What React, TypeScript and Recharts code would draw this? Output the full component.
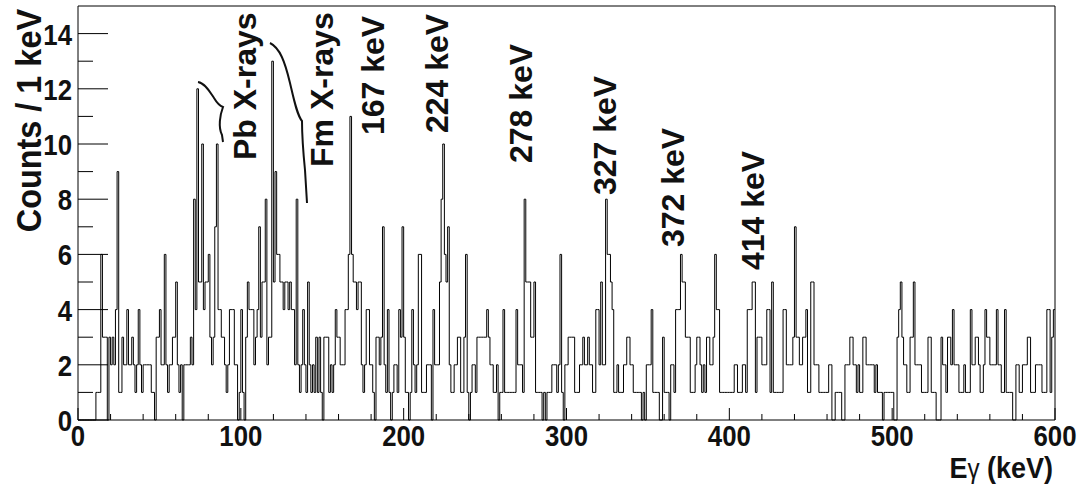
import { LineChart, Line, XAxis, YAxis, ReferenceArea } from 'recharts';

// counts per 1 keV bin (bin i = [i, i+1) keV)
const counts000 = [
  0, 0, 0, 0, 0, 0, 0, 0, 0, 0, 0, 1, 1, 1, 6, 3, 3, 3, 0, 3,
  2, 3, 2, 4, 9, 1, 1, 3, 2, 2, 4, 2, 2, 3, 2, 1, 2, 4, 2, 1,
  2, 2, 2, 2, 2, 1, 1, 0, 3, 3, 4, 2, 2, 6, 2, 1, 2, 2, 3, 3,
  5, 2, 1, 2, 0, 2, 2, 2, 2, 3, 2, 8, 4, 12, 5, 5, 10, 4, 5, 5,
  6, 3, 2, 3, 7, 10, 4, 4, 3, 3, 2, 1, 2, 4, 4, 4, 2, 2, 0, 1,
];
const counts100 = [
  4, 1, 0, 3, 5, 4, 4, 4, 2, 3, 4, 7, 3, 5, 5, 8, 2, 3, 3, 13,
  5, 9, 6, 6, 5, 5, 4, 5, 5, 4, 5, 4, 4, 2, 8, 2, 1, 2, 4, 2,
  1, 5, 2, 1, 2, 1, 3, 1, 3, 1, 0, 3, 3, 3, 1, 2, 1, 2, 4, 3,
  3, 2, 2, 2, 4, 4, 6, 11, 6, 5, 5, 4, 5, 5, 2, 1, 2, 4, 4, 2,
  2, 1, 0, 3, 3, 2, 3, 7, 2, 1, 4, 1, 0, 1, 2, 2, 1, 4, 3, 7,
];
const counts200 = [
  3, 1, 1, 0, 1, 4, 2, 1, 2, 6, 6, 1, 1, 1, 2, 2, 2, 0, 4, 2,
  2, 2, 5, 8, 10, 6, 5, 7, 2, 1, 1, 2, 2, 3, 3, 1, 1, 3, 6, 1,
  0, 1, 2, 2, 1, 3, 3, 3, 3, 3, 3, 4, 3, 2, 2, 1, 1, 2, 0, 1,
  1, 4, 1, 1, 1, 1, 1, 1, 1, 4, 2, 2, 2, 1, 8, 5, 5, 5, 3, 3,
  5, 1, 1, 1, 1, 0, 1, 0, 1, 1, 1, 2, 2, 2, 1, 2, 6, 1, 0, 2,
];
const counts300 = [
  2, 3, 3, 3, 3, 1, 1, 1, 2, 2, 3, 2, 2, 3, 2, 2, 1, 1, 4, 4,
  2, 5, 2, 2, 8, 6, 6, 5, 4, 1, 1, 2, 1, 1, 1, 2, 2, 3, 3, 2,
  2, 1, 1, 1, 1, 1, 0, 1, 0, 2, 2, 2, 4, 1, 1, 1, 1, 0, 0, 3,
  1, 1, 1, 0, 2, 2, 1, 4, 4, 4, 6, 5, 5, 3, 3, 3, 1, 1, 1, 2,
  3, 3, 2, 1, 2, 1, 3, 3, 2, 2, 3, 6, 4, 4, 1, 1, 1, 1, 1, 1,
];
const counts400 = [
  1, 1, 1, 2, 2, 1, 1, 1, 2, 2, 1, 4, 4, 4, 5, 5, 1, 3, 3, 3,
  2, 2, 2, 4, 4, 1, 5, 1, 1, 1, 1, 1, 1, 4, 4, 2, 2, 2, 2, 3,
  7, 3, 3, 2, 2, 3, 3, 4, 1, 1, 5, 5, 2, 2, 2, 1, 1, 1, 1, 1,
  1, 2, 2, 0, 0, 1, 1, 1, 1, 0, 0, 2, 2, 2, 3, 3, 2, 2, 1, 2,
  1, 1, 3, 3, 2, 2, 2, 2, 2, 1, 2, 1, 1, 1, 0, 1, 1, 1, 1, 1,
];
const counts500 = [
  1, 0, 0, 3, 4, 5, 3, 2, 2, 1, 1, 3, 3, 5, 2, 2, 2, 2, 1, 1,
  1, 1, 3, 3, 1, 1, 1, 0, 0, 0, 3, 2, 2, 1, 3, 3, 2, 4, 2, 2,
  2, 1, 1, 1, 2, 1, 1, 1, 4, 2, 2, 3, 3, 2, 1, 1, 2, 4, 3, 3,
  2, 2, 2, 2, 4, 2, 2, 1, 1, 4, 1, 1, 1, 1, 0, 0, 2, 2, 1, 1,
  2, 2, 2, 3, 3, 1, 1, 1, 2, 2, 2, 2, 1, 1, 1, 4, 4, 1, 3, 4,
];

const xTicks = [0, 20, 40, 60, 80, 100, 120, 140, 160, 180, 200, 220, 240, 260, 280, 300,
  320, 340, 360, 380, 400, 420, 440, 460, 480, 500, 520, 540, 560, 580, 600];
const xLabelled = [0, 100, 200, 300, 400, 500, 600];
const yTicks = [0, 1, 2, 3, 4, 5, 6, 7, 8, 9, 10, 11, 12, 13, 14];
const yLabelled = [0, 2, 4, 6, 8, 10, 12, 14];

const peakLabels = ['Pb X-rays', 'Fm X-rays', '167 keV', '224 keV', '278 keV', '327 keV', '372 keV', '414 keV'];

const counts = [...counts000, ...counts100, ...counts200, ...counts300, ...counts400, ...counts500];
const data = counts.map((c, i) => ({ e: i, c }));
data.push({ e: 600, c: counts[counts.length - 1] });

const W = 1077;
const H = 484;
const FONT = '"Liberation Sans", Arial, Helvetica, sans-serif';

// label anchors (centre x, lower end y) in pixels
const labelPos: [number, number][] = [
  [245, 160], [322, 167], [373, 135], [437, 133], [521, 163], [605, 195], [673, 247], [753, 270],
];

const XTick = (p: any) => {
  const v = p.payload.value;
  const major = xLabelled.includes(v);
  return (
    <g>
      <line x1={p.x} x2={p.x} y1={p.y} y2={p.y - (major ? 12 : 6)} stroke="#000" strokeWidth={1} />
      {major && (
        <text
          transform={`translate(${p.x}, ${p.y + 26}) scale(0.86, 1)`}
          textAnchor="middle"
          fontFamily={FONT}
          fontWeight="bold"
          fontSize={30}
          fill="#111"
        >
          {v}
        </text>
      )}
    </g>
  );
};

const YTick = (p: any) => {
  const v = p.payload.value;
  const major = yLabelled.includes(v);
  return (
    <g>
      <line x1={p.x} x2={p.x + (major ? 30 : 15)} y1={p.y} y2={p.y} stroke="#000" strokeWidth={1} />
      {major && (
        <text
          transform={`translate(${p.x - 6}, ${p.y + 11}) scale(0.86, 1)`}
          textAnchor="end"
          fontFamily={FONT}
          fontWeight="bold"
          fontSize={30}
          fill="#111"
        >
          {v}
        </text>
      )}
    </g>
  );
};

export default function App() {
  return (
    <div style={{ position: 'absolute', left: 0, top: 0, width: W, height: H, background: '#fff' }}>
      <LineChart width={W} height={H} data={data} margin={{ top: 6, right: 22, bottom: 24, left: 18 }}>
        <XAxis
          dataKey="e"
          type="number"
          domain={[0, 600]}
          ticks={xTicks}
          interval={0}
          axisLine={false}
          tickLine={false}
          tickSize={0}
          tickMargin={0}
          height={40}
          tick={<XTick />}
        />
        <YAxis
          type="number"
          domain={[0, 15]}
          ticks={yTicks}
          interval={0}
          axisLine={false}
          tickLine={false}
          tickSize={0}
          tickMargin={0}
          width={60}
          tick={<YTick />}
        />
        <Line
          type="stepAfter"
          dataKey="c"
          stroke="#000"
          strokeWidth={1}
          dot={false}
          isAnimationActive={false}
        />
        <ReferenceArea x1={0} x2={600} y1={0} y2={15} fill="none" stroke="#000" strokeWidth={1} ifOverflow="visible" />
      </LineChart>
      <svg width={W} height={H} style={{ position: 'absolute', left: 0, top: 0, pointerEvents: 'none' }}>
        <text
          transform="translate(28, 9) rotate(-90) scale(0.9, 1)"
          textAnchor="end"
          dominantBaseline="central"
          fontFamily={FONT}
          fontWeight="bold"
          fontSize={36}
          fill="#111"
        >
          Counts / 1 keV
        </text>
        <text
          transform="translate(1053, 478) scale(0.9, 1)"
          textAnchor="end"
          fontFamily={FONT}
          fontWeight="bold"
          fontSize={30}
          fill="#111"
        >
          E<tspan fontWeight="normal" fontSize={27}>γ</tspan> (keV)
        </text>
        {peakLabels.map((t, i) => (
          <text
            key={t}
            transform={`translate(${labelPos[i][0]}, ${labelPos[i][1]}) rotate(-90)`}
            textAnchor="start"
            dominantBaseline="central"
            fontFamily={FONT}
            fontWeight="bold"
            fontSize={32}
            fill="#111"
          >
            {t}
          </text>
        ))}
        <path
          d="M198,82 C205,83 210,92 214,98 C217,103 220,106 223,107 C220,115 218,127 222,135 L223,142"
          fill="none"
          stroke="#111"
          strokeWidth={2}
        />
        <path
          d="M270,43 C280,48 285,62 290,83 C294,100 297,115 302,121 C302,135 303,150 305,170 L307,203"
          fill="none"
          stroke="#111"
          strokeWidth={2}
        />
      </svg>
    </div>
  );
}
